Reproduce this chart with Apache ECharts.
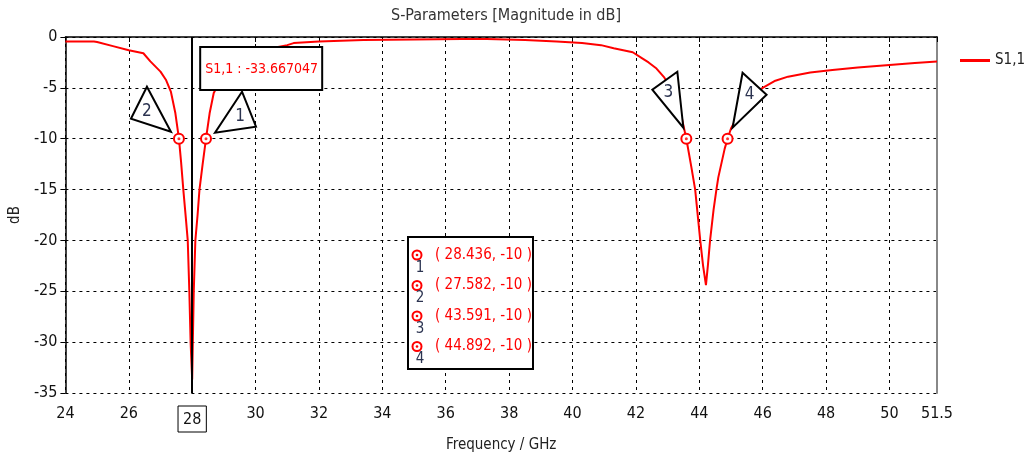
<!DOCTYPE html>
<html>
<head>
<meta charset="utf-8">
<script src="https://cdn.jsdelivr.net/npm/echarts@6/dist/echarts.min.js"></script>
<style>
  html, body { margin: 0; padding: 0; background: #fff; }
  #chart { width: 1024px; height: 461px; }
</style>
</head>
<body>
<div id="chart"></div>
<script>
var FONT = '"DejaVu Sans Condensed", "Liberation Sans", sans-serif';

// S1,1 magnitude (dB)
var freq = [24.0, 24.5, 24.9, 25.0, 25.5, 26.0, 26.46, 26.68, 27.0, 27.17, 27.33, 27.47, 27.582,
  27.65, 27.72, 27.8, 27.86, 27.91, 27.95, 28.0, 28.02, 28.05, 28.1, 28.17, 28.23, 28.33, 28.436,
  28.55, 28.68, 29.0, 29.5, 30.0, 30.5, 31.0, 31.2, 32.0, 33.4, 35.0, 36.5, 37.3, 38.5, 39.5,
  40.3, 40.9, 41.3, 41.9, 42.2, 42.4, 42.65, 42.9, 43.2, 43.4, 43.591, 43.75, 43.87, 44.03, 44.12,
  44.21, 44.27, 44.34, 44.45, 44.54, 44.6, 44.8, 44.892, 45.0, 45.3, 45.6, 46.0, 46.4, 46.8,
  47.5, 48.2, 49.0, 50.0, 50.8, 51.5];
var s11 = [-0.45, -0.45, -0.45, -0.5, -0.9, -1.3, -1.6, -2.4, -3.4, -4.2, -5.4, -7.5, -10,
  -12.3, -15, -17.8, -20, -25, -30, -33.667, -30, -25, -20, -17.5, -15, -12.5, -10,
  -7.5, -5.5, -3.6, -2.3, -1.6, -1.1, -0.8, -0.6, -0.45, -0.3, -0.25, -0.2, -0.2, -0.3, -0.45,
  -0.6, -0.8, -1.1, -1.5, -2.1, -2.5, -3.1, -4.0, -5.6, -7.3, -10, -12.8, -15, -20, -22.5,
  -24.4, -22.5, -20, -17, -15, -13.8, -11, -10, -9.0, -7.3, -6.0, -5.0, -4.3, -3.9,
  -3.5, -3.25, -3.0, -2.75, -2.55, -2.4];

var markerNames = ['1', '2', '3', '4'];
var markerFreq = [28.436, 27.582, 43.591, 44.892];
var markerDb = [-10, -10, -10, -10];
var minFreq = 28;
var minLabel = 'S1,1 : -33.667047';

var chart = echarts.init(document.getElementById('chart'));

var curve = freq.map(function (f, i) { return [f, s11[i]]; });
var markers = markerFreq.map(function (f, i) { return [f, markerDb[i]]; });

chart.setOption({
  animation: false,
  backgroundColor: '#fff',
  title: {
    text: 'S-Parameters [Magnitude in dB]',
    left: 501, top: 3, textAlign: 'center',
    textStyle: { fontFamily: FONT, fontSize: 16, fontWeight: 'normal', color: '#333' }
  },
  legend: {
    data: [{ name: 'S1,1', icon: 'rect' }],
    left: 955, top: 48,
    itemWidth: 30, itemHeight: 3, itemGap: 5,
    textStyle: { fontFamily: FONT, fontSize: 15, color: '#222' }
  },
  grid: { left: 65, right: 87, top: 37, bottom: 68 },
  xAxis: {
    type: 'value', min: 24, max: 51.5, interval: 2,
    name: 'Frequency / GHz', nameLocation: 'middle', nameGap: 43,
    nameTextStyle: { fontFamily: FONT, fontSize: 15, color: '#222' },
    axisLine: { lineStyle: { color: '#000', width: 1.5 } },
    axisTick: { show: true, length: 5, inside: false, lineStyle: { color: '#000' } },
    axisLabel: {
      fontFamily: FONT, fontSize: 16, color: '#111', margin: 13,
      formatter: function (v) { return v === minFreq ? '{box|' + v + '}' : String(v); },
      rich: { box: { fontFamily: FONT, fontSize: 16, color: '#111', borderColor: '#000', borderWidth: 1, padding: [6, 5, 4, 5] } }
    },
    splitLine: { show: true, lineStyle: { color: '#000', type: [3, 4], width: 1 } }
  },
  yAxis: [{
    type: 'value', min: -35, max: 0, interval: 5,
    name: 'dB', nameLocation: 'middle', nameGap: 42,
    nameTextStyle: { fontFamily: FONT, fontSize: 15, color: '#222' },
    axisLine: { show: true, lineStyle: { color: '#000', width: 1.5 } },
    axisTick: { show: true, length: 5, lineStyle: { color: '#000' } },
    axisLabel: { fontFamily: FONT, fontSize: 16, color: '#111', margin: 8 },
    splitLine: { show: true, lineStyle: { color: '#000', type: [3, 4], width: 1 } }
  }, {
    type: 'value', min: -35, max: 0, position: 'right',
    axisLine: { show: true, lineStyle: { color: '#888', width: 2 } },
    axisTick: { show: false }, axisLabel: { show: false }, splitLine: { show: false }
  }],
  series: [{
    name: 'S1,1', type: 'line', data: curve, showSymbol: false, symbol: 'none',
    lineStyle: { color: '#ff0000', width: 2 }, itemStyle: { color: '#ff0000' },
    z: 3,
    markLine: {
      silent: true, symbol: 'none', label: { show: false },
      lineStyle: { color: '#000', type: 'solid', width: 2 },
      data: [{ xAxis: minFreq }]
    }
  }, {
    name: 'markers', type: 'scatter', data: markers, symbol: 'circle', symbolSize: 10,
    itemStyle: { color: '#fff', borderColor: '#ff0000', borderWidth: 2, opacity: 1 }, z: 5
  }, {
    name: 'markerDots', type: 'scatter', data: markers, symbol: 'circle', symbolSize: 3,
    itemStyle: { color: '#ff0000' }, z: 6
  }]
});

// annotations: marker triangles, readout box and marker table
function px(p) { return chart.convertToPixel({ gridIndex: 0 }, p); }

// triangle vertices and number position, offset from each marker (pixels)
var triShapes = [
  { pts: [[36, -47], [9, -6], [50, -12]], lab: [34, -22] },
  { pts: [[-32, -52], [-48, -20], [-8, -7]], lab: [-32, -27] },
  { pts: [[-9, -67], [-34, -49], [-3, -11]], lab: [-18, -46] },
  { pts: [[15, -66], [39, -44], [5, -11]], lab: [22, -44] }
];

var elements = [];
markers.forEach(function (m, i) {
  var c = px(m);
  var t = triShapes[i];
  elements.push({
    type: 'polygon', z: 100,
    shape: { points: t.pts.map(function (q) { return [c[0] + q[0], c[1] + q[1]]; }) },
    style: { fill: '#fff', stroke: '#000', lineWidth: 2 }
  });
  elements.push({
    type: 'text', z: 101, x: c[0] + t.lab[0], y: c[1] + t.lab[1],
    style: { text: markerNames[i], font: '17px ' + FONT, fill: '#2b3350', align: 'center', verticalAlign: 'middle' }
  });
});

// readout box near the dip
var boxAt = px([minFreq, 0]);
elements.push({
  type: 'rect', z: 100,
  shape: { x: boxAt[0] + 8, y: boxAt[1] + 10, width: 122, height: 43 },
  style: { fill: '#fff', stroke: '#000', lineWidth: 2 }
});
elements.push({
  type: 'text', z: 101, x: boxAt[0] + 13, y: boxAt[1] + 32,
  style: { text: minLabel, font: '14px ' + FONT, fill: '#ff0000', verticalAlign: 'middle' }
});

// marker table
var tx = 408, ty = 237;
elements.push({
  type: 'rect', z: 100,
  shape: { x: tx, y: ty, width: 125, height: 132 },
  style: { fill: '#fff', stroke: '#000', lineWidth: 2 }
});
markers.forEach(function (m, i) {
  var cy = ty + 18 + i * 30.5;
  elements.push({
    type: 'circle', z: 101, shape: { cx: tx + 9, cy: cy, r: 4.5 },
    style: { fill: '#fff', stroke: '#ff0000', lineWidth: 2 }
  });
  elements.push({
    type: 'circle', z: 102, shape: { cx: tx + 9, cy: cy, r: 1.3 },
    style: { fill: '#ff0000' }
  });
  elements.push({
    type: 'text', z: 101, x: tx + 12, y: cy + 13,
    style: { text: markerNames[i], font: '15px ' + FONT, fill: '#2b3350', align: 'center', verticalAlign: 'middle' }
  });
  elements.push({
    type: 'text', z: 101, x: tx + 27, y: cy,
    style: { text: '( ' + markerFreq[i].toFixed(3) + ', ' + markerDb[i] + ' )', font: '15px ' + FONT, fill: '#ff0000', verticalAlign: 'middle' }
  });
});

chart.setOption({ graphic: { elements: elements } });
</script>
</body>
</html>
